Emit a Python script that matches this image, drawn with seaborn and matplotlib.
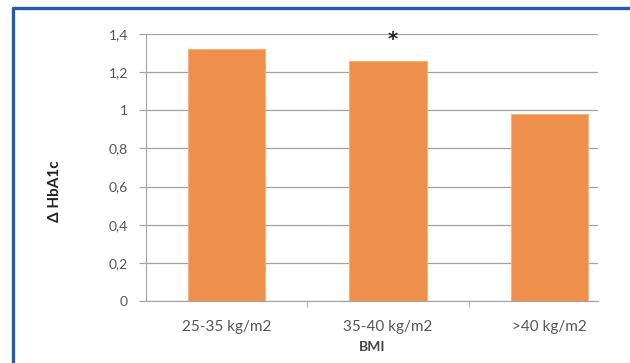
import pandas as pd
import matplotlib
matplotlib.use('Agg')
import matplotlib.pyplot as plt
import seaborn as sns
from matplotlib.lines import Line2D

# values
bmi_groups = ['25-35 kg/m2', '35-40 kg/m2', '>40 kg/m2']
delta_hba1c = [1.32, 1.26, 0.98]
y_ticks = [0, 0.2, 0.4, 0.6, 0.8, 1.0, 1.2, 1.4]
y_tick_labels = ['0', '0,2', '0,4', '0,6', '0,8', '1', '1,2', '1,4']
significant = ['35-40 kg/m2']

df = pd.DataFrame({'bmi': bmi_groups, 'hba1c': delta_hba1c})

sns.set_style("white")
plt.rcParams['font.family'] = ['Lato', 'DejaVu Sans']

fig = plt.figure(figsize=(6.3, 3.63), dpi=100)
ax = fig.add_axes([0.2317, 0.1708, 0.949 - 0.2317, 0.9063 - 0.1708])

sns.barplot(data=df, x='bmi', y='hba1c', color='#ee8f4c', width=0.48,
            edgecolor='#f7b27c', linewidth=0.8, saturation=1, ax=ax, zorder=3)

ax.set_ylim(0, 1.4)
ax.set_xlim(-0.5, 2.3)
ax.set_yticks(y_ticks)
ax.set_yticklabels(y_tick_labels)
ax.yaxis.grid(True, color='#a8a0a0', linewidth=0.9, zorder=0)
for s in ['top', 'right']:
    ax.spines[s].set_visible(False)
ax.spines['left'].set_color('#a8a0a0')
ax.spines['bottom'].set_color('#a8a0a0')
ax.tick_params(axis='y', length=5, color='#a8a0a0', labelsize=10,
               labelcolor='#555555', pad=8, left=True)
ax.tick_params(axis='x', length=0, labelsize=11, labelcolor='#555555', pad=14)
# category boundary ticks on x axis
ax.set_xticks([0.5, 1.5], minor=True)
ax.tick_params(axis='x', which='minor', length=4, color='#a8a0a0', bottom=True)

# significance marker
for i, g in enumerate(bmi_groups):
    if g in significant:
        ax.text(i + 0.03, 1.37, '*', ha='center', va='center', fontsize=14,
                fontweight='bold', color='#222222', family='DejaVu Sans')

ax.set_xlabel('BMI', fontsize=10, fontweight='bold', color='#444444', labelpad=5)
ax.set_ylabel('Δ HbA1c', fontsize=11, fontweight='bold', color='#222222')
ax.yaxis.set_label_coords(-0.185, 0.41)

# blue frame (top and left edges only, the rest is cropped)
frame = dict(transform=fig.transFigure, color='#1f5fa8', linewidth=2.4)
fig.add_artist(Line2D([13 / 630, 1.05], [1 - 8 / 363] * 2, **frame))
fig.add_artist(Line2D([13 / 630] * 2, [-0.05, 1 - 8 / 363], **frame))

fig.savefig('out.png', dpi=100)
